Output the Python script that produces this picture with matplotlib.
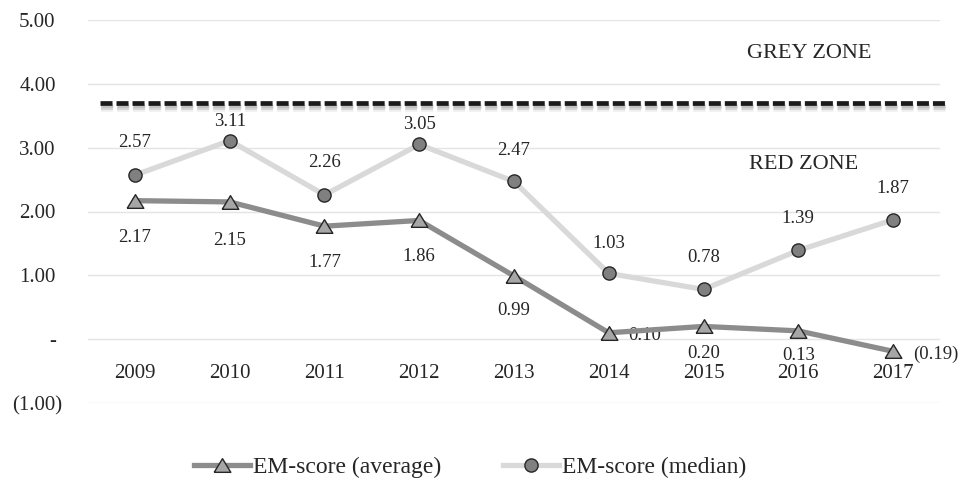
import matplotlib
matplotlib.use('Agg')
import matplotlib.pyplot as plt
import matplotlib.patheffects as pe
from matplotlib.transforms import ScaledTranslation
import numpy as np

# ---------------- data ----------------
years = ['2009', '2010', '2011', '2012', '2013', '2014', '2015', '2016', '2017']
em_average = [2.17, 2.15, 1.77, 1.86, 0.99, 0.10, 0.20, 0.13, -0.19]
em_median = [2.57, 3.11, 2.26, 3.05, 2.47, 1.03, 0.78, 1.39, 1.87]
zone_threshold = 3.7
y_ticks = [-1, 0, 1, 2, 3, 4, 5]
y_tick_labels = ['(1.00)', '-', '1.00', '2.00', '3.00', '4.00', '5.00']
series_names = ['EM-score (average)', 'EM-score (median)']
zone_names = ['GREY ZONE', 'RED ZONE']


def fmt(v):
    return f'({abs(v):.2f})' if v < 0 else f'{v:.2f}'


# ---------------- style ----------------
plt.rcParams['font.family'] = ['Liberation Serif', 'DejaVu Serif']
TXT = '#262626'
avg_offsets = [(0, -37), (0, -39), (0, -36), (0, -36), (0, -35), (19, -3), (0, -27), (0, -25), (20, -3)]
med_offsets = [(0, 33), (0, 19), (0, 32), (0, 20), (0, 31), (0, 30), (0, 32), (0, 32), (0, 31)]

W, H = 960, 479
fig = plt.figure(figsize=(W / 100, H / 100), dpi=100)
left, right, top, bottom = 87.6, 940.4, 20, 403
ax = fig.add_axes([left / W, 1 - bottom / H, (right - left) / W, (bottom - top) / H])

x = np.arange(len(years))
ax.set_xlim(-0.5, len(years) - 0.5)
ax.set_ylim(-1, 5)
ax.set_yticks(y_ticks)
ax.set_yticklabels(y_tick_labels)
ax.grid(axis='y', color='#e4e4e4', lw=1.0)
ax.grid(axis='x', visible=False)
ax.set_axisbelow(True)
for s in ['top', 'right', 'left']:
    ax.spines[s].set_visible(False)
ax.spines['bottom'].set_position(('data', 0))
ax.spines['bottom'].set_visible(False)
ax.set_xticks(x)
ax.set_xticklabels(years)
ax.tick_params(axis='x', length=0, pad=18, labelsize=15, labelcolor=TXT)
ax.tick_params(axis='y', length=0, pad=18, labelsize=15, labelcolor=TXT)
# accounting-style alignment: values without parentheses sit a bit left
for lab in ax.get_yticklabels():
    if not lab.get_text().startswith('('):
        lab.set_transform(lab.get_transform() + ScaledTranslation(-5 / 72, 0, fig.dpi_scale_trans))

# threshold dashed line with soft shadow
ax.plot([-0.37, 8.55], [zone_threshold, zone_threshold], color='#1a1a1a', lw=3.4,
        dashes=(2.54, 0.85), clip_on=False, zorder=2, solid_capstyle='butt',
        path_effects=[pe.SimpleLineShadow(offset=(1, -3), shadow_color='#000000', alpha=0.06, linewidth=7),
                      pe.SimpleLineShadow(offset=(1, -3), shadow_color='#000000', alpha=0.10, linewidth=4.5),
                      pe.SimpleLineShadow(offset=(1, -2.5), shadow_color='#000000', alpha=0.10, linewidth=2.5),
                      pe.Normal()])

tri = [(-1, -0.82), (1, -0.82), (0, 0.82), (-1, -0.82)]
ax.plot(x, em_average, color='#8c8c8c', lw=3.8, marker=tri, ms=12,
        mfc='#a6a6a6', mec='#262626', mew=1.0, label=series_names[0], zorder=4)
ax.plot(x, em_median, color='#d9d9d9', lw=3.8, marker='o', ms=9.5,
        mfc='#808080', mec='#262626', mew=1.0, label=series_names[1], zorder=3)

for xi, v, (dx, dy) in zip(x, em_average, avg_offsets):
    ax.annotate(fmt(v), (xi, v), xytext=(dx, dy), textcoords='offset pixels',
                ha='left' if dx > 0 else 'center', va='center', fontsize=13.5, color=TXT,
                annotation_clip=False)
for xi, v, (dx, dy) in zip(x, em_median, med_offsets):
    ax.annotate(fmt(v), (xi, v), xytext=(dx, dy), textcoords='offset pixels',
                ha='center', va='center', fontsize=13.5, color=TXT, annotation_clip=False)

ax.text(7.12, 4.48, zone_names[0], ha='center', va='center', fontsize=16, color=TXT)
ax.text(7.06, 2.73, zone_names[1], ha='center', va='center', fontsize=16, color=TXT)

fig.legend(loc='center', bbox_to_anchor=(0.49, 0.025), ncol=2, frameon=False,
           fontsize=17, handlelength=2.35, handletextpad=0.15, columnspacing=2.6,
           labelcolor=TXT)

fig.savefig('out.png', dpi=100, facecolor='white')
